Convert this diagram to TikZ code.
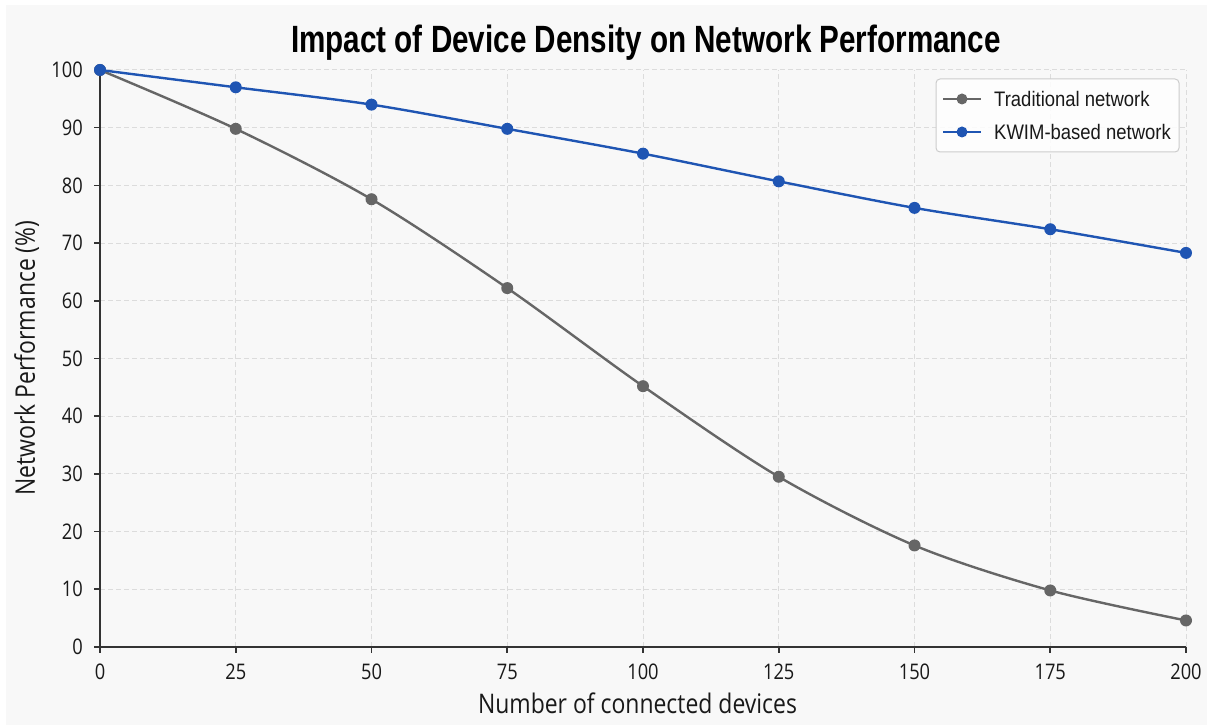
\documentclass[tikz,border=0pt]{standalone}
\usepackage{fontspec}
\setmainfont{Open Sans}[FakeStretch=0.85]
\newfontfamily\legfont{Liberation Sans}[FakeStretch=0.88]
\newfontfamily\titlefont{Liberation Sans}[FakeStretch=0.78]
\definecolor{bgc}{HTML}{F8F8F8}
\definecolor{gridc}{HTML}{DCDCDC}
\definecolor{tradc}{HTML}{666666}
\definecolor{kwimc}{HTML}{1F55B3}
\definecolor{axisc}{HTML}{333333}
\definecolor{legc}{HTML}{CCCCCC}
\tikzset{
  gridline/.style={draw=gridc, line width=1pt, dash pattern=on 5pt off 3pt},
  axisline/.style={draw=axisc, line width=1.6pt},
  tradline/.style={draw=tradc, line width=2.4pt, line join=round},
  kwimline/.style={draw=kwimc, line width=2.4pt, line join=round},
  ticklab/.style={font=\fontsize{21.5}{24}\selectfont, text=black!90, inner sep=0pt},
  axlab/.style={font=\fontsize{27}{30}\selectfont, text=black!90, inner sep=0pt},
  leglab/.style={font=\legfont\fontsize{21}{24}\selectfont, text=black!90, inner sep=0pt, anchor=west},
}
\begin{document}
\begin{tikzpicture}[x=1pt,y=1pt]
\useasboundingbox (0,0) rectangle (1207,725);
\fill[bgc] (6,0) rectangle (1207,720);
% title
\node[font=\titlefont\bfseries\fontsize{38}{42}\selectfont, anchor=base, inner sep=0pt] (title) at (646,672) {Impact of Device Density on Network Performance};
\begin{scope}[xshift=100pt,yshift=78pt,x=5.43pt,y=5.77pt]
  % grid
  \foreach \i in {25,50,...,200} \draw[gridline] (\i,0) -- (\i,100);
  \foreach \j in {10,20,...,100} \draw[gridline] (0,\j) -- (200,\j);
  % axes
  \coordinate (ytop) at (0,100);
  \coordinate (orig) at (0,0);
  \coordinate (xend) at (200,0);
  \draw[axisline] (ytop) -- (orig) -- (xend);
  \foreach \i in {0,25,...,200} {
    \coordinate (xt\i) at (\i,0);
    \draw[axisline] (xt\i) -- ++(0,-6pt);
    \node[ticklab] (xl\i) at ([yshift=-25pt]xt\i) {\i};
  }
  \foreach \j in {0,10,...,100} {
    \coordinate (yt\j) at (0,\j);
    \draw[axisline] (yt\j) -- ++(-6pt,0);
    \node[ticklab, anchor=east] (yl\j) at ([xshift=-17pt]yt\j) {\j};
  }
  % traditional
  \draw[tradline] plot[smooth, tension=0.5] coordinates {(0,100) (25,89.8) (50,77.6) (75,62.2) (100,45.2) (125,29.5) (150,17.6) (175,9.8) (200,4.6)};
  \foreach \x/\y in {0/100,25/89.8,50/77.6,75/62.2,100/45.2,125/29.5,150/17.6,175/9.8,200/4.6}
    \fill[tradc] (\x,\y) circle[radius=6pt];
  % KWIM
  \draw[kwimline] plot[smooth, tension=0.5] coordinates {(0,100) (25,97) (50,94) (75,89.8) (100,85.5) (125,80.7) (150,76.1) (175,72.4) (200,68.3)};
  \foreach \x/\y in {0/100,25/97,50/94,75/89.8,100/85.5,125/80.7,150/76.1,175/72.4,200/68.3}
    \fill[kwimc] (\x,\y) circle[radius=6pt];
\end{scope}
% axis labels
\node[axlab, anchor=base] (xlabel) at (637.5,11) {Number of connected devices};
\node[axlab, anchor=base, rotate=90] (ylabel) at (35,367) {Network Performance (\%)};
% legend
\draw[draw=legc, fill=white, fill opacity=0.85, line width=1pt, rounded corners=4pt] (936,573) rectangle (1179,646);
\coordinate (l1a) at (943,626); \coordinate (l1b) at (981,626);
\draw[tradline] (l1a) -- (l1b);
\fill[tradc] (962,626) circle[radius=5.5pt];
\node[leglab] (leg1) at (994,626) {Traditional network};
\coordinate (l2a) at (943,593); \coordinate (l2b) at (981,593);
\draw[kwimline] (l2a) -- (l2b);
\fill[kwimc] (962,593) circle[radius=5.5pt];
\node[leglab] (leg2) at (994,593) {KWIM-based network};
\end{tikzpicture}
\end{document}
